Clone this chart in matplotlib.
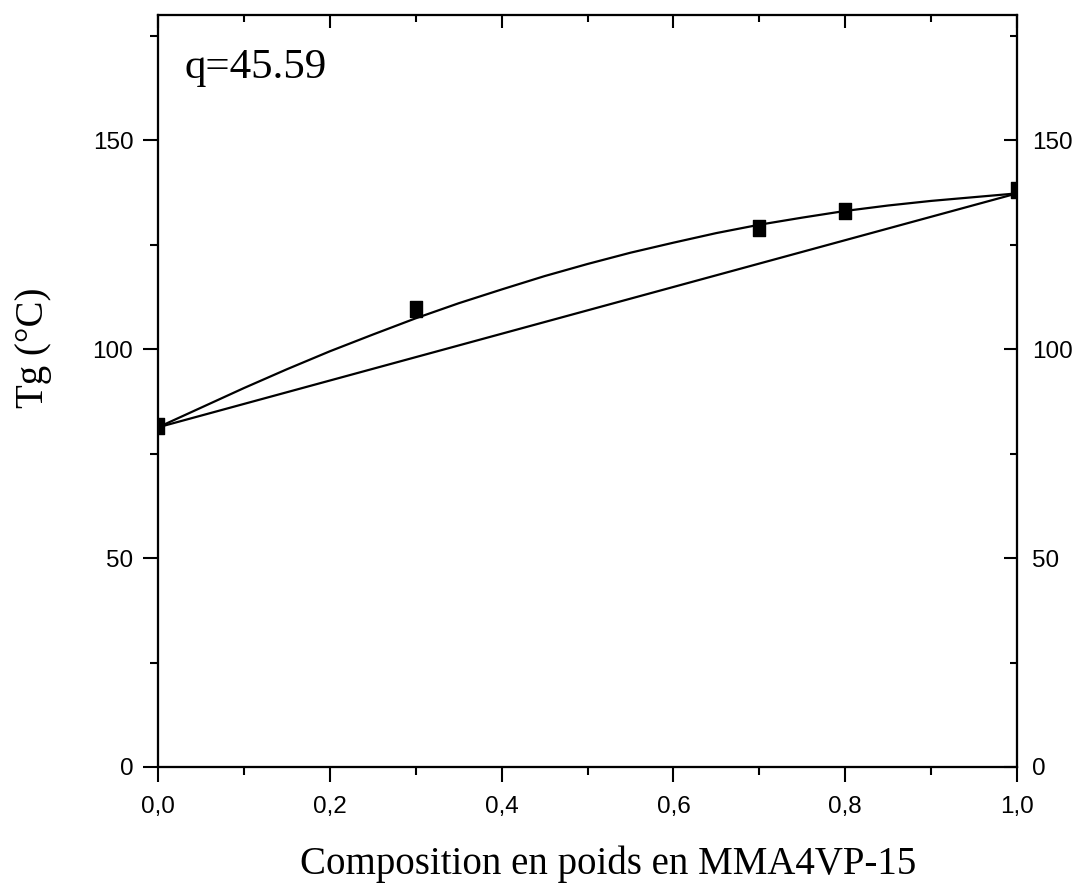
import numpy as np
import matplotlib
matplotlib.use("Agg")
from matplotlib import pyplot as plt
from matplotlib.path import Path
from matplotlib.ticker import MultipleLocator, FuncFormatter, NullFormatter

# mesures Tg en fonction de la composition
comp = [0.0, 0.3, 0.7, 0.8, 1.0]
tg = [81.6, 109.7, 129.1, 133.2, 138.1]

# courbe Kwei
fit_x = [0.0, 0.05, 0.1, 0.15, 0.2, 0.25, 0.3, 0.35, 0.4, 0.45, 0.5,
         0.55, 0.6, 0.65, 0.7, 0.75, 0.8, 0.85, 0.9, 0.95, 1.0]
fit_y = [81.3, 86.0, 90.7, 95.2, 99.5, 103.5, 107.4, 111.0, 114.3, 117.5, 120.4,
         123.1, 125.5, 127.8, 129.8, 131.5, 133.1, 134.4, 135.5, 136.4, 137.3]

# droite additive (loi des melanges)
lin_x = [0.0, 1.0]
lin_y = [81.3, 137.3]

q_text = "q=45.59"

serif = ["Liberation Serif", "DejaVu Serif"]
sans = ["Liberation Sans", "DejaVu Sans"]

fig = plt.figure(figsize=(10.78, 8.88), dpi=100)
ax = fig.add_axes([0.1466, 0.1363, 0.7968, 0.8468])

# marqueur rectangulaire (plus haut que large)
rect = Path([(-0.38, -0.5), (0.38, -0.5), (0.38, 0.5), (-0.38, 0.5), (-0.38, -0.5)],
            [Path.MOVETO, Path.LINETO, Path.LINETO, Path.LINETO, Path.CLOSEPOLY])

ax.plot(fit_x, fit_y, color="black", lw=1.6)
ax.plot(lin_x, lin_y, color="black", lw=1.6)
ax.plot(comp, tg, linestyle="none", marker=rect, markersize=11,
        color="black", zorder=3)

ax.set_xlim(0, 1)
ax.set_ylim(0, 180)

ax.xaxis.set_major_locator(MultipleLocator(0.2))
ax.xaxis.set_minor_locator(MultipleLocator(0.1))
ax.yaxis.set_major_locator(MultipleLocator(50))
ax.yaxis.set_minor_locator(MultipleLocator(25))
ax.xaxis.set_major_formatter(FuncFormatter(lambda v, p: f"{v:.1f}".replace(".", ",")))
ax.yaxis.set_major_formatter(FuncFormatter(lambda v, p: f"{v:.0f}"))

for s in ax.spines.values():
    s.set_linewidth(1.5)

ax.tick_params(axis="x", which="both", direction="out", bottom=True, top=False,
               labelsize=17.5, pad=10, width=1.5)
ax.tick_params(axis="y", which="both", direction="out", left=True, right=False,
               labelsize=17.5, pad=7, width=1.5)
ax.tick_params(which="major", length=10.8)
ax.tick_params(which="minor", length=5.8)
for lab in ax.get_xticklabels() + ax.get_yticklabels():
    lab.set_family(sans)

# axe de droite : ticks vers l'interieur, etiquettes a l'exterieur
axr = ax.twinx()
axr.set_ylim(ax.get_ylim())
axr.yaxis.set_major_locator(MultipleLocator(50))
axr.yaxis.set_minor_locator(MultipleLocator(25))
axr.yaxis.set_major_formatter(FuncFormatter(lambda v, p: f"{v:.0f}"))
axr.tick_params(which="both", direction="in", labelsize=17.5, pad=11, width=1.5)
axr.tick_params(which="major", length=9.4)
axr.tick_params(which="minor", length=5)
for lab in axr.get_yticklabels():
    lab.set_family(sans)

# axe du haut : ticks vers l'interieur, sans etiquettes
axt = ax.twiny()
axt.set_xlim(ax.get_xlim())
axt.xaxis.set_major_locator(MultipleLocator(0.2))
axt.xaxis.set_minor_locator(MultipleLocator(0.1))
axt.xaxis.set_major_formatter(NullFormatter())
axt.tick_params(which="both", direction="in", width=1.5)
axt.tick_params(which="major", length=9.4)
axt.tick_params(which="minor", length=5)

for a in (axr, axt):
    for s in a.spines.values():
        s.set_linewidth(1.5)

ax.set_xlabel("Composition en poids en MMA4VP-15", fontsize=28, family=serif)
ax.xaxis.set_label_coords(0.524, -0.104)
ax.set_ylabel("Tg (°C)", fontsize=28, family=serif)
ax.yaxis.set_label_coords(-0.123, 0.558)

ax.text(0.031, 165, q_text, fontsize=31, family=serif, ha="left", va="baseline")

fig.savefig("out.png", dpi=100, facecolor="white")
